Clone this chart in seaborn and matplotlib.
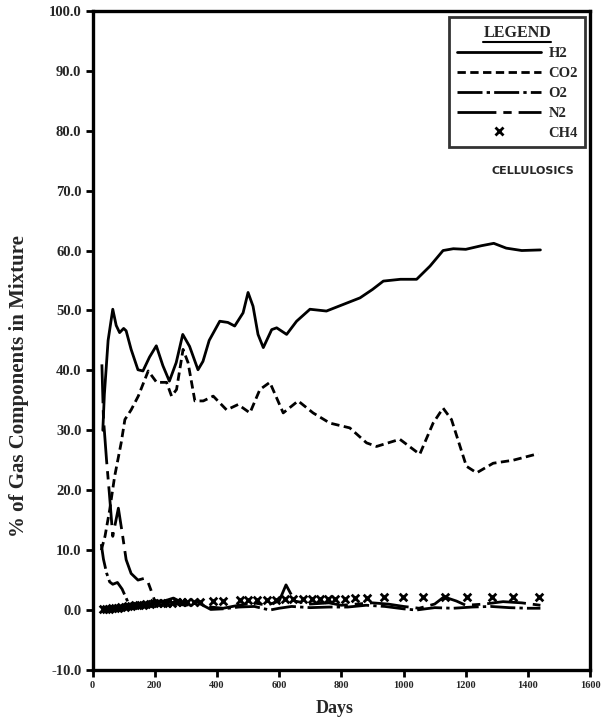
import numpy as np
import pandas as pd
import matplotlib
matplotlib.use("Agg")
import matplotlib.pyplot as plt
from matplotlib.lines import Line2D
import seaborn as sns

# ---------------- data ----------------
h2_days = [33, 38, 50, 65, 76, 87, 100, 108, 124, 146, 162, 183, 205, 226, 247, 269,
           290, 312, 339, 355, 375, 409, 435, 457, 484, 500, 516, 532, 549, 576, 592,
           624, 656, 699, 752, 806, 860, 900, 935, 990, 1042, 1085, 1127, 1160, 1200,
           1250, 1290, 1330, 1380, 1440]
h2_vals = [30, 36, 45, 50.2, 47.5, 46.3, 47.0, 46.6, 43.5, 40.1, 39.9, 42.2, 44.1, 40.8,
           38.2, 41.3, 46.0, 44.0, 40.1, 41.5, 45.0, 48.2, 48.0, 47.4, 49.6, 53.0, 50.7,
           46.0, 43.8, 46.8, 47.1, 46.0, 48.2, 50.2, 49.9, 51.0, 52.1, 53.5, 54.9, 55.2,
           55.2, 57.4, 60.0, 60.3, 60.2, 60.8, 61.2, 60.4, 60.0, 60.1]

co2_days = [28, 40, 55, 71, 92, 104, 124, 147, 179, 206, 238, 254, 270, 291, 307, 329,
            356, 388, 431, 468, 506, 538, 570, 613, 661, 709, 763, 827, 881, 913, 988,
            1052, 1095, 1127, 1154, 1202, 1235, 1288, 1352, 1433]
co2_vals = [10, 12.3, 16.7, 22.3, 27.9, 31.8, 33.4, 35.7, 39.9, 38.0, 38.0, 35.7, 36.8,
            43.5, 41.3, 34.9, 34.9, 35.7, 33.4, 34.3, 32.9, 36.8, 38.0, 32.9, 34.9, 32.9,
            31.2, 30.4, 27.9, 27.3, 28.5, 26.0, 31.2, 33.7, 31.8, 24.0, 22.9, 24.5, 25.0,
            26.1]

o2_days = [28, 35, 45, 55, 65, 80, 95, 108, 120, 140, 170, 200, 240, 270, 300, 340, 380,
           420, 470, 520, 570, 600, 640, 700, 760, 820, 880, 940, 1000, 1040, 1100, 1160,
           1220, 1280, 1340, 1400, 1440]
o2_vals = [11, 8.5, 6.2, 4.7, 4.3, 4.6, 3.5, 2.0, 0.6, 0.4, 0.6, 0.9, 1.5, 1.0, 0.8, 1.2,
           0.1, 0.2, 0.5, 0.6, 0.0, 0.3, 0.6, 0.4, 0.5, 0.5, 0.8, 0.6, 0.2, 0.0, 0.4, 0.3,
           0.5, 0.6, 0.4, 0.3, 0.3]

n2_days = [30, 35, 45, 54, 65, 83, 97, 108, 124, 146, 167, 178, 188, 200, 230, 260, 290,
           330, 380, 420, 470, 520, 560, 600, 622, 650, 700, 760, 800, 850, 900, 950,
           1000, 1050, 1100, 1130, 1170, 1200, 1260, 1320, 1380, 1440]
n2_vals = [41, 32, 25, 19.5, 12.3, 17.0, 12.3, 8.4, 6.1, 5.0, 5.3, 4.7, 3.3, 1.5, 1.5,
           2.0, 1.2, 1.5, 0.5, 0.3, 0.8, 1.2, 0.8, 1.5, 4.2, 1.5, 1.0, 1.2, 0.8, 1.0, 1.2,
           1.0, 0.6, 0.3, 1.0, 2.2, 1.5, 0.8, 1.0, 1.4, 1.2, 0.8]

ch4_days = [33, 42, 52, 62, 72, 82, 92, 103, 114, 125, 137, 149, 161, 173, 186, 199, 212,
            226, 240, 255, 270, 288, 305, 325, 345, 388, 420, 474, 500, 530, 560, 590,
            618, 645, 677, 704, 731, 756, 781, 811, 843, 881, 937, 999, 1063, 1133, 1203,
            1283, 1352, 1436]
ch4_vals = [0.1, 0.2, 0.2, 0.3, 0.3, 0.4, 0.5, 0.5, 0.6, 0.7, 0.8, 0.8, 0.9, 1.0, 1.0,
            1.1, 1.1, 1.2, 1.2, 1.2, 1.3, 1.3, 1.3, 1.4, 1.4, 1.5, 1.5, 1.6, 1.6, 1.6, 1.7,
            1.7, 1.8, 1.8, 1.8, 1.8, 1.9, 1.9, 1.9, 1.9, 2.0, 2.0, 2.1, 2.1, 2.1, 2.2, 2.2,
            2.2, 2.2, 2.2]

series_names = ["H2", "CO2", "O2", "N2", "CH4"]
y_ticks = [-10, 0, 10, 20, 30, 40, 50, 60, 70, 80, 90, 100]
x_ticks = [0, 200, 400, 600, 800, 1000, 1200, 1400, 1600]

# ---------------- figure ----------------
sns.set_theme(style="ticks")
plt.rcParams["font.family"] = ["Liberation Serif", "DejaVu Serif"]

fig = plt.figure(figsize=(6.01, 7.18), dpi=100)
ax = fig.add_axes([0.154, 0.0669, 0.828, 0.918])

styles = {
    "H2": "-",
    "CO2": (0, (3.0, 1.6)),
    "O2": (0, (9, 1.5, 1.2, 1.5)),
    "N2": (0, (14, 2.5, 3, 2.5)),
}
data = {
    "H2": (h2_days, h2_vals),
    "CO2": (co2_days, co2_vals),
    "O2": (o2_days, o2_vals),
    "N2": (n2_days, n2_vals),
}
for name in ["H2", "CO2", "O2", "N2"]:
    d, v = data[name]
    df = pd.DataFrame({"Days": d, "Value": v})
    sns.lineplot(data=df, x="Days", y="Value", ax=ax, color="black", lw=2.0,
                 linestyle=styles[name], estimator=None, sort=False)

ch4_df = pd.DataFrame({"Days": ch4_days, "Value": ch4_vals})
sns.scatterplot(data=ch4_df, x="Days", y="Value", ax=ax, marker="x", color="black",
                s=30, linewidth=2.0, zorder=5)

ax.set_xlim(0, 1600)
ax.set_ylim(-10, 100)
ax.set_xticks(x_ticks)
ax.set_xticklabels([str(t) for t in x_ticks], fontsize=7.5, fontweight="bold")
ax.set_yticks(y_ticks)
ax.set_yticklabels([f"{t:.1f}" for t in y_ticks], fontsize=10.5, fontweight="bold")
ax.tick_params(axis="both", direction="out", length=5, width=2, color="black", pad=3)

for sp in ax.spines.values():
    sp.set_linewidth(2.4)
    sp.set_color("black")

ax.set_xlabel("Days", fontsize=13, fontweight="bold")
ax.set_ylabel("% of Gas Components in Mixture", fontsize=15, fontweight="bold")
ax.xaxis.set_label_coords(0.487, -0.045)
ax.yaxis.set_label_coords(-0.128, 0.43)

# legend
handles = [
    Line2D([], [], color="black", lw=2.0, linestyle=styles["H2"]),
    Line2D([], [], color="black", lw=2.0, linestyle=styles["CO2"]),
    Line2D([], [], color="black", lw=2.0, linestyle=styles["O2"]),
    Line2D([], [], color="black", lw=2.0, linestyle=styles["N2"]),
    Line2D([], [], color="black", lw=0, marker="x", markersize=6, markeredgewidth=2.0),
]
leg = ax.legend(handles, series_names, title="LEGEND", loc="upper right",
                bbox_to_anchor=(0.99, 0.99), borderaxespad=0, frameon=True,
                fancybox=False, handlelength=5.8, handletextpad=0.5,
                labelspacing=0.45, borderpad=0.5,
                prop={"family": "Liberation Serif", "weight": "bold", "size": 10.5},
                title_fontproperties={"family": "Liberation Serif", "weight": "bold",
                                      "size": 11.5})
leg.get_frame().set_edgecolor("black")
leg.get_frame().set_linewidth(2.0)

ax.text(0.885, 0.757, "CELLULOSICS", transform=ax.transAxes, ha="center", va="center",
        fontsize=8, fontweight="bold", family="DejaVu Sans")

# underline the legend title
fig.canvas.draw()
tb = leg.get_title().get_window_extent().transformed(fig.transFigure.inverted())
fig.add_artist(Line2D([tb.x0, tb.x1], [tb.y0 - 0.002, tb.y0 - 0.002],
                      transform=fig.transFigure, color="black", lw=1.5))

fig.savefig("out.png", dpi=100)
